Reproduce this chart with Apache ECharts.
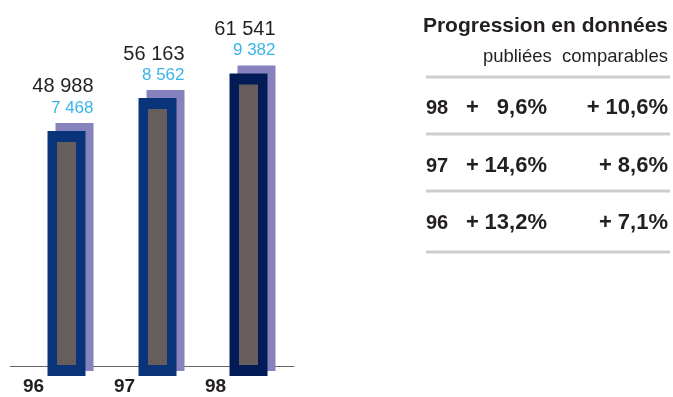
<!DOCTYPE html>
<html>
<head>
<meta charset="utf-8">
<script src="https://cdn.jsdelivr.net/npm/echarts@6/dist/echarts.min.js"></script>
<style>
  html, body { margin: 0; padding: 0; background: #fff; }
  #chart { width: 673px; height: 397px; }
</style>
</head>
<body>
<div id="chart"></div>
<script>
// données du graphique
const categories = ['96', '97', '98'];
const totals = [48988, 56163, 61541];
const subTotals = [7468, 8562, 9382];

// tableau de progression
const tableYears = ['98', '97', '96'];
const published = ['9,6%', '14,6%', '13,2%'];
const comparable = ['10,6%', '8,6%', '7,1%'];

const FONT = '"Liberation Sans", Arial, Helvetica, sans-serif';
const frameColors = ['#0a3479', '#0a3479', '#021a55'];
const shadowColor = '#8682be';
const innerColor = '#675d5d';

const fmt = v => String(v).replace(/\B(?=(\d{3})+(?!\d))/g, ' ');

const chart = echarts.init(document.getElementById('chart'));

// éléments du tableau
const tableGraphics = [];
const rowLines = [77, 134, 191, 252];
rowLines.forEach(y => {
  tableGraphics.push({
    type: 'rect',
    shape: { x: 426, y: y - 1.5, width: 244, height: 3 },
    style: { fill: '#cdcdcd' }
  });
});
tableGraphics.push({
  type: 'text', x: 668, y: 26,
  style: { text: 'Progression en données', fill: '#231f20', font: 'bold 21px ' + FONT, align: 'right', verticalAlign: 'middle' }
});
tableGraphics.push({
  type: 'text', x: 668, y: 57,
  style: { text: 'publiées  comparables', fill: '#231f20', font: '18.5px ' + FONT, align: 'right', verticalAlign: 'middle' }
});
const rowCenters = [108, 166, 223];
tableYears.forEach((yr, i) => {
  const y = rowCenters[i];
  tableGraphics.push({
    type: 'text', x: 426, y: y,
    style: { text: yr, fill: '#231f20', font: 'bold 20px ' + FONT, align: 'left', verticalAlign: 'middle' }
  });
  tableGraphics.push({
    type: 'text', x: 466, y: y,
    style: { text: '+', fill: '#231f20', font: 'bold 22px ' + FONT, align: 'left', verticalAlign: 'middle' }
  });
  tableGraphics.push({
    type: 'text', x: 547, y: y,
    style: { text: published[i], fill: '#231f20', font: 'bold 22px ' + FONT, align: 'right', verticalAlign: 'middle' }
  });
  tableGraphics.push({
    type: 'text', x: 668, y: y,
    style: { text: '+ ' + comparable[i], fill: '#231f20', font: 'bold 22px ' + FONT, align: 'right', verticalAlign: 'middle' }
  });
});
// prolongement de la ligne de base vers la gauche
tableGraphics.push({
  type: 'rect',
  shape: { x: 10, y: 366, width: 12, height: 1 },
  style: { fill: '#666' }
});

const option = {
  animation: false,
  grid: { left: 21, width: 273, top: 0, bottom: 31 },
  xAxis: {
    type: 'category',
    data: categories,
    axisLine: { lineStyle: { color: '#666', width: 1 } },
    axisTick: { show: false },
    axisLabel: {
      fontFamily: FONT,
      fontSize: 19,
      fontWeight: 'bold',
      color: '#231f20',
      margin: 11,
      align: 'center',
      padding: [0, 66, 0, 0]
    }
  },
  yAxis: { type: 'value', min: 0, max: 80000, show: false },
  graphic: tableGraphics,
  series: [{
    type: 'custom',
    data: categories.map((c, i) => [i, totals[i], subTotals[i]]),
    renderItem: function (params, api) {
      const i = api.value(0);
      const top = api.coord([i, api.value(1)]);
      const base = api.coord([i, 0]);
      const c = top[0], yv = top[1], y0 = base[1];
      return {
        type: 'group',
        children: [
          { type: 'rect', shape: { x: c - 11, y: yv - 19, width: 38, height: y0 + 5 - (yv - 19) }, style: { fill: shadowColor } },
          { type: 'rect', shape: { x: c - 19, y: yv - 11, width: 38, height: y0 + 10 - (yv - 11) }, style: { fill: frameColors[i] } },
          { type: 'rect', shape: { x: c - 9.5, y: yv, width: 19, height: y0 - 1 - yv }, style: { fill: innerColor } },
          { type: 'text', x: c + 27, y: yv - 55, style: { text: fmt(api.value(1)), fill: '#231f20', font: '20px ' + FONT, align: 'right', verticalAlign: 'middle' } },
          { type: 'text', x: c + 27, y: yv - 34, style: { text: fmt(api.value(2)), fill: '#3bb4e9', font: '17px ' + FONT, align: 'right', verticalAlign: 'middle' } }
        ]
      };
    }
  }]
};

chart.setOption(option);
</script>
</body>
</html>
